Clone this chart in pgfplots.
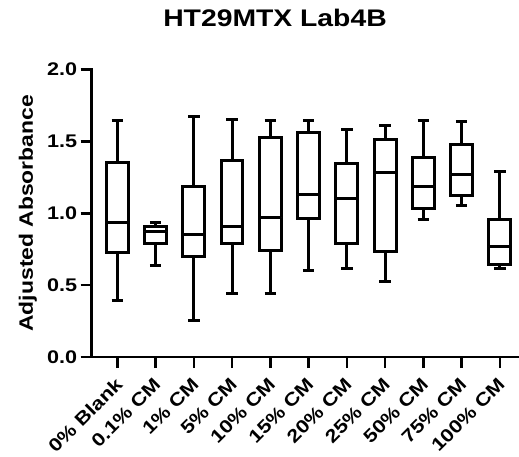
\documentclass[border=0pt]{standalone}
\usepackage{fontspec}
\setmainfont{Liberation Sans}
\newfontfamily\wfont{Liberation Sans}[FakeStretch=1.18]
\usepackage{pgfplots}
\pgfplotsset{compat=1.18}
\usepgfplotslibrary{statistics}
\pgfplotsset{mybox/.style={black, line width=3pt, solid, fill=white, mark=none}}
\begin{document}
\begin{tikzpicture}
\useasboundingbox (-91.7pt,-99pt) rectangle (427.3pt,357pt);
\begin{axis}[
  at={(0,0)}, anchor=south west,
  scale only axis, width=427.3pt, height=287.5pt,
  xmin=-0.67, xmax=10.5, ymin=0, ymax=2,
  clip=false,
  boxplot/draw direction=y,
  axis lines=left,
  axis line style={-, line width=2.5pt, line cap=rect},
  tick align=outside, major tick length=11pt,
  tick style={line width=2.5pt, black},
  ytick={0,0.5,1,1.5,2},
  xtick={0,1,2,3,4,5,6,7,8,9,10},
  xticklabels={0\% Blank, 0.1\% CM, 1\% CM, 5\% CM, 10\% CM, 15\% CM, 20\% CM, 25\% CM, 50\% CM, 75\% CM, 100\% CM},
  /pgf/number format/.cd, fixed, fixed zerofill, precision=1, assume math mode=true,
  /pgfplots/.cd,
  yticklabel style={font=\wfont\bfseries\fontsize{18.3}{20}\selectfont, anchor=east},
  xticklabel style={font=\wfont\bfseries\fontsize{18.3}{20}\selectfont, yshift=-7pt, xshift=-3pt, rotate=45, anchor=north east, inner sep=1pt},
  ylabel={Adjusted Absorbance},
  ylabel style={font=\wfont\bfseries\fontsize{19.4}{22}\selectfont, at={(axis description cs:-0.1374,0.5)}, anchor=base},
  title={HT29MTX Lab4B},
  title style={font=\wfont\bfseries\fontsize{24}{28}\selectfont, at={(axis description cs:0.429,1.1304)}, anchor=base},
]
\addplot[mybox, boxplot prepared={draw position=0, lower whisker=0.39, lower quartile=0.73, median=0.935, upper quartile=1.35, upper whisker=1.643, box extend=0.57, whisker extend=0.3}] coordinates {};
\addplot[mybox, boxplot prepared={draw position=1, lower whisker=0.638, lower quartile=0.793, median=0.87, upper quartile=0.91, upper whisker=0.935, box extend=0.57, whisker extend=0.3}] coordinates {};
\addplot[mybox, boxplot prepared={draw position=2, lower whisker=0.255, lower quartile=0.70, median=0.851, upper quartile=1.183, upper whisker=1.671, box extend=0.57, whisker extend=0.3}] coordinates {};
\addplot[mybox, boxplot prepared={draw position=3, lower whisker=0.441, lower quartile=0.789, median=0.905, upper quartile=1.369, upper whisker=1.652, box extend=0.57, whisker extend=0.3}] coordinates {};
\addplot[mybox, boxplot prepared={draw position=4, lower whisker=0.441, lower quartile=0.742, median=0.970, upper quartile=1.524, upper whisker=1.643, box extend=0.57, whisker extend=0.3}] coordinates {};
\addplot[mybox, boxplot prepared={draw position=5, lower whisker=0.603, lower quartile=0.963, median=1.132, upper quartile=1.564, upper whisker=1.643, box extend=0.57, whisker extend=0.3}] coordinates {};
\addplot[mybox, boxplot prepared={draw position=6, lower whisker=0.615, lower quartile=0.793, median=1.102, upper quartile=1.346, upper whisker=1.585, box extend=0.57, whisker extend=0.3}] coordinates {};
\addplot[mybox, boxplot prepared={draw position=7, lower whisker=0.522, lower quartile=0.731, median=1.281, upper quartile=1.513, upper whisker=1.613, box extend=0.57, whisker extend=0.3}] coordinates {};
\addplot[mybox, boxplot prepared={draw position=8, lower whisker=0.958, lower quartile=1.032, median=1.183, upper quartile=1.387, upper whisker=1.647, box extend=0.57, whisker extend=0.3}] coordinates {};
\addplot[mybox, boxplot prepared={draw position=9, lower whisker=1.051, lower quartile=1.121, median=1.271, upper quartile=1.478, upper whisker=1.636, box extend=0.57, whisker extend=0.3}] coordinates {};
\addplot[mybox, boxplot prepared={draw position=10, lower whisker=0.615, lower quartile=0.645, median=0.770, upper quartile=0.956, upper whisker=1.292, box extend=0.57, whisker extend=0.3}] coordinates {};
\end{axis}
\end{tikzpicture}
\end{document}
